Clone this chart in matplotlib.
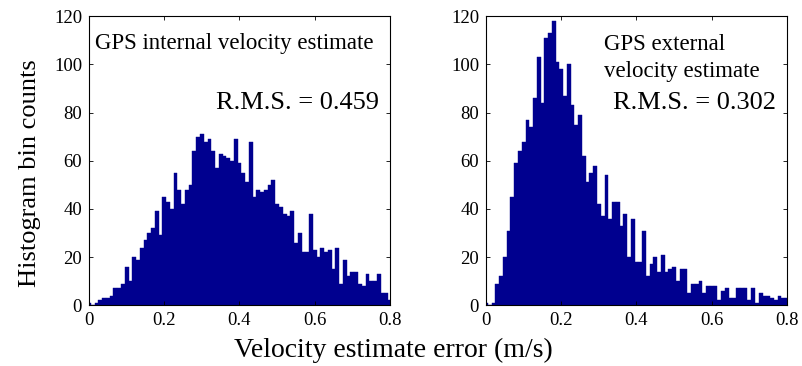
import numpy as np
import matplotlib
matplotlib.use("Agg")
import matplotlib.pyplot as plt

plt.rcParams['font.family'] = ['Liberation Serif', 'DejaVu Serif']

# bin centres 0, 0.01, ..., 0.80
bin_centers = [round(0.01 * k, 2) for k in range(81)]

internal_counts = [1, 0, 1, 2, 3, 3, 4, 7, 7, 9,
                   16, 10, 20, 19, 24, 27, 30, 32, 39, 29,
                   45, 43, 40, 55, 48, 42, 48, 50, 64, 70,
                   71, 68, 69, 64, 57, 63, 62, 61, 60, 69,
                   59, 55, 51, 68, 45, 48, 47, 48, 50, 52,
                   42, 41, 38, 37, 39, 26, 30, 22, 22, 38,
                   23, 20, 24, 22, 23, 15, 24, 9, 19, 12,
                   14, 14, 9, 8, 13, 10, 10, 13, 5, 5, 2]

external_counts = [1, 0, 1, 9, 12, 20, 31, 45, 59, 64,
                   68, 77, 74, 86, 103, 84, 111, 113, 118, 101,
                   98, 87, 100, 83, 75, 79, 62, 51, 55, 58,
                   42, 37, 54, 36, 43, 43, 33, 38, 20, 36,
                   18, 18, 31, 12, 17, 20, 14, 21, 14, 15,
                   16, 10, 15, 15, 5, 9, 9, 10, 5, 8,
                   8, 8, 2, 6, 7, 3, 3, 7, 7, 7,
                   2, 7, 1, 5, 4, 4, 3, 2, 4, 3, 3]

x_ticks = [0, 0.2, 0.4, 0.6, 0.8]
x_ticklabels = ['0', '0.2', '0.4', '0.6', '0.8']
y_ticks = [0, 20, 40, 60, 80, 100, 120]

title_left = "GPS internal velocity estimate"
title_right = "GPS external\nvelocity estimate"
rms_left = "R.M.S. = 0.459"
rms_right = "R.M.S. = 0.302"
xlabel = "Velocity estimate error (m/s)"
ylabel = "Histogram bin counts"

W, H = 803, 366
fig = plt.figure(figsize=(W / 100, H / 100), dpi=100)

bar_color = '#00008F'

def make_ax(left_px, counts):
    ax = fig.add_axes([left_px / W, (H - 305.3) / H, 301 / W, 289 / H])
    ax.bar(bin_centers, counts, width=0.01, align='center',
           color=bar_color, edgecolor=bar_color, linewidth=0.3)
    ax.set_xlim(0, 0.8)
    ax.set_ylim(0, 120)
    ax.set_xticks(x_ticks)
    ax.set_xticklabels(x_ticklabels)
    ax.set_yticks(y_ticks)
    ax.tick_params(direction='in', length=3, width=0.6, top=True, right=True,
                   labelsize=13.5, pad=5)
    for s in ax.spines.values():
        s.set_linewidth(0.8)
        s.set_color('black')
    return ax

ax1 = make_ax(89, internal_counts)
ax2 = make_ax(486, external_counts)

fig.text(95 / W, 1 - 44 / H, title_left, fontsize=16.5, ha='left', va='center')
fig.text(379 / W, 1 - 103 / H, rms_left, fontsize=19, ha='right', va='center')

fig.text(604 / W, 1 - 58 / H, title_right, fontsize=16.5, ha='left',
         va='center', linespacing=1.34)
fig.text(776 / W, 1 - 103 / H, rms_right, fontsize=19, ha='right', va='center')

fig.text(393 / W, 1 - 350 / H, xlabel, fontsize=20, ha='center', va='center')
fig.text(30 / W, 1 - 173 / H, ylabel, fontsize=19, ha='center', va='center',
         rotation=90)

fig.savefig('out.png', dpi=100)
